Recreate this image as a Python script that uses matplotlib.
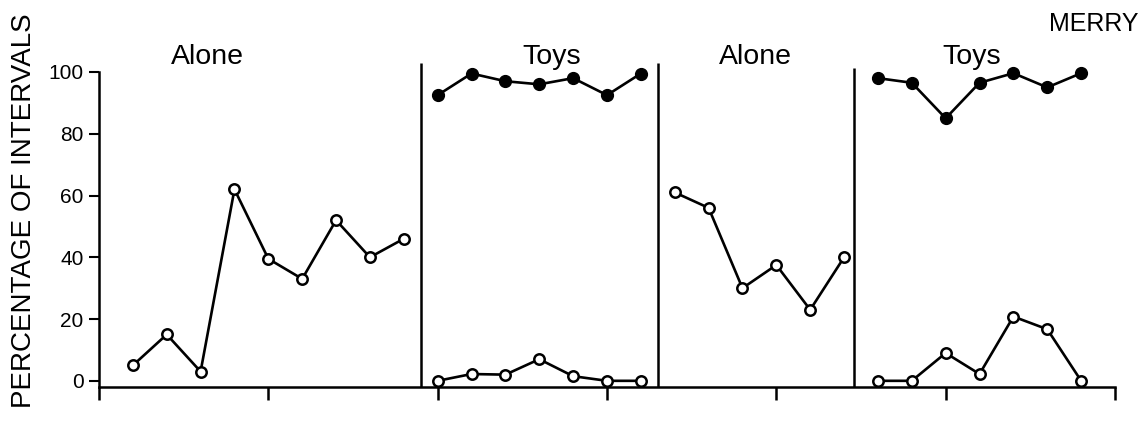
import matplotlib
matplotlib.use("Agg")
import matplotlib.pyplot as plt

plt.rcParams['font.family'] = ['Liberation Sans', 'DejaVu Sans']

# sessions and percentages
alone1_x = [1, 2, 3, 4, 5, 6, 7, 8, 9]
alone1_y = [5, 15, 3, 62, 39.5, 33, 52, 40, 46]

toys1_x = [10, 11, 12, 13, 14, 15, 16]
toys1_filled = [92.5, 99.5, 97, 96, 98, 92.5, 99.5]
toys1_open = [0, 2.2, 2, 7, 1.5, 0, 0]

alone2_x = [17, 18, 19, 20, 21, 22]
alone2_y = [61, 56, 30, 37.5, 23, 40]

toys2_x = [23, 24, 25, 26, 27, 28, 29]
toys2_filled = [98, 96.5, 85, 96.5, 99.6, 95, 99.6]
toys2_open = [0, 0, 9, 2.2, 20.8, 16.7, 0]

phase_lines = [9.5, 16.5, 22.3]
phase_tops = [103, 103, 101.3]
phase_labels = ["Alone", "Toys", "Alone", "Toys"]
phase_label_x = [207, 552, 755, 972]  # pixel centres in figure

fig = plt.figure(figsize=(11.46, 4.21), dpi=100)
ax = fig.add_axes([99/1146, 1 - 387/421, (1115-99)/1146, (387-62.7)/421])

open_kw = dict(color='black', lw=1.9, marker='o', ms=7.5, mfc='white',
               mec='black', mew=1.8, zorder=3)
fill_kw = dict(color='black', lw=1.9, marker='o', ms=8.5, mfc='black',
               mec='black', zorder=3)

ax.plot(alone1_x, alone1_y, **open_kw)
ax.plot(toys1_x, toys1_filled, **fill_kw)
ax.plot(toys1_x, toys1_open, **open_kw)
ax.plot(alone2_x, alone2_y, **open_kw)
ax.plot(toys2_x, toys2_filled, **fill_kw)
ax.plot(toys2_x, toys2_open, **open_kw)

for px, top in zip(phase_lines, phase_tops):
    ax.vlines(px, -2.3, top, color='black', lw=1.8)

ax.set_xlim(0, 30)
ax.set_ylim(-2, 103)
ax.spines['top'].set_visible(False)
ax.spines['right'].set_visible(False)
ax.spines['left'].set_bounds(-2, 100)
ax.spines['left'].set_linewidth(1.8)
ax.spines['bottom'].set_linewidth(1.8)
ax.spines['bottom'].set_position(('data', -2))

ax.set_yticks([0, 20, 40, 60, 80, 100])
ax.set_xticks([0, 5, 10, 15, 20, 25, 30])
ax.set_xticklabels([])
ax.tick_params(axis='y', direction='out', length=7, width=1.5, labelsize=15, pad=4)
ax.tick_params(axis='x', direction='out', length=9, width=1.8)

fig.text(24/1146, 1 - 211/421, "PERCENTAGE OF INTERVALS", rotation=90,
         ha='center', va='center', fontsize=20)

for lab, px in zip(phase_labels, phase_label_x):
    fig.text(px/1146, 1 - 57/421, lab, ha='center', va='center', fontsize=20.5)

fig.text(1094/1146, 1 - 24/421, "MERRY", ha='center', va='center', fontsize=18)

fig.savefig("out.png", dpi=100, facecolor='white')
